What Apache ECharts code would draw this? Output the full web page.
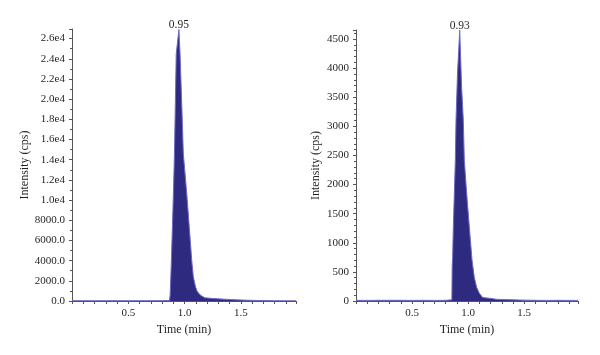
<!DOCTYPE html>
<html>
<head>
<meta charset="utf-8">
<script src="https://cdn.jsdelivr.net/npm/echarts@6/dist/echarts.min.js"></script>
<style>html,body{margin:0;padding:0;background:#fff}#c{width:600px;height:355px}</style>
</head>
<body>
<div id="c"></div>
<script>
// Left chromatogram (time in min, intensity in cps)
var leftTime  = [0, 0.1, 0.2, 0.3, 0.4, 0.5, 0.6, 0.7, 0.8, 0.866, 0.872, 0.883, 0.892, 0.901, 0.910, 0.918, 0.926, 0.950, 0.960, 0.975, 0.989, 1.019, 1.042, 1.064, 1.078, 1.095, 1.110, 1.130, 1.152, 1.180, 1.250, 1.350, 1.450, 1.550, 1.650, 1.800, 1.990];
var leftValue = [30, 30, 25, 30, 30, 25, 30, 30, 35, 50, 600, 4000, 7300, 10700, 14500, 19500, 24500, 26900, 24500, 19500, 14600, 10700, 7300, 4000, 2400, 1500, 1000, 700, 500, 320, 250, 180, 120, 80, 50, 30, 30];
// Right chromatogram
var rightTime  = [0, 0.1, 0.2, 0.3, 0.4, 0.5, 0.6, 0.7, 0.8, 0.855, 0.858, 0.862, 0.868, 0.877, 0.886, 0.892, 0.905, 0.925, 0.942, 0.957, 0.966, 0.987, 1.011, 1.035, 1.055, 1.076, 1.100, 1.130, 1.200, 1.250, 1.300, 1.400, 1.500, 1.600, 1.700, 1.800, 1.900, 1.980];
var rightValue = [12, 10, 12, 12, 12, 10, 12, 10, 12, 20, 600, 750, 1266, 1850, 2417, 3105, 3900, 4650, 3670, 3105, 2417, 1850, 1266, 700, 407, 235, 132, 60, 45, 30, 25, 20, 15, 12, 10, 12, 10, 10];
// Peak apex labels
var peakTimes  = [0.950, 0.925];
var peakValues = [26900, 4650];
var peakLabels = ['0.95', '0.93'];
// Tick labels
var xTickLabels = ['', '0.5', '1.0', '1.5'];
var leftYTickLabels = ['0.0', '2000.0', '4000.0', '6000.0', '8000.0', '1.0e4', '1.2e4', '1.4e4', '1.6e4', '1.8e4', '2.0e4', '2.2e4', '2.4e4', '2.6e4'];
var rightYTickLabels = ['0', '500', '1000', '1500', '2000', '2500', '3000', '3500', '4000', '4500'];

var FONT = '"Liberation Serif", "DejaVu Serif", serif';
var TXT = '#231f20';
var FILL = '#2e2a7f';
var LINE = '#6d6ac4';

function xAxis(gi, max) {
  return {
    type: 'value', gridIndex: gi, min: 0, max: max, interval: 0.5,
    name: 'Time (min)', nameLocation: 'middle', nameGap: 21,
    nameTextStyle: { fontFamily: FONT, fontSize: 12, color: TXT },
    axisLine: { show: true, onZero: false, lineStyle: { color: '#555', width: 1 } },
    axisTick: { show: true, inside: false, length: 3, lineStyle: { color: '#555' } },
    minorTick: { show: true, splitNumber: 5, length: 3, lineStyle: { color: '#555' } },
    axisLabel: { margin: 7, fontFamily: FONT, fontSize: 11, color: TXT, showMaxLabel: false,
      formatter: function (v) { var i = Math.round(v / 0.5); return xTickLabels[i] !== undefined ? xTickLabels[i] : ''; } },
    splitLine: { show: false }
  };
}

function yAxis(gi, max, interval, labels, gap, minorSplit) {
  return {
    type: 'value', gridIndex: gi, min: 0, max: max, interval: interval,
    name: 'Intensity (cps)', nameLocation: 'middle', nameGap: gap, nameRotate: 90,
    nameTextStyle: { fontFamily: FONT, fontSize: 12, color: TXT },
    axisLine: { show: true, lineStyle: { color: '#555', width: 1 } },
    axisTick: { show: true, length: 3, lineStyle: { color: '#555' } },
    minorTick: { show: true, splitNumber: minorSplit, length: 2, lineStyle: { color: '#555' } },
    axisLabel: { margin: 7, fontFamily: FONT, fontSize: 11, color: TXT, showMaxLabel: false,
      formatter: function (v) { var i = Math.round(v / interval); return labels[i] !== undefined ? labels[i] : ''; } },
    splitLine: { show: false }
  };
}

function series(gi, t, v) {
  return {
    type: 'line', xAxisIndex: gi, yAxisIndex: gi, showSymbol: false, symbol: 'none',
    animation: false, silent: true,
    lineStyle: { color: LINE, width: 1 },
    areaStyle: { color: FILL, opacity: 1 },
    data: t.map(function (x, i) { return [x, v[i]]; }),
    markPoint: {
      symbol: 'circle', symbolSize: 1, silent: true, animation: false,
      itemStyle: { color: 'rgba(0,0,0,0)' },
      label: { show: true, position: 'top', distance: 0, offset: [0, 2], fontFamily: FONT, fontSize: 11.5, color: TXT,
        formatter: function (p) { return p.name; } },
      data: [{ name: peakLabels[gi], coord: [peakTimes[gi], peakValues[gi]] }]
    }
  };
}

var chart = echarts.init(document.getElementById('c'), null, { renderer: 'canvas' });
chart.setOption({
  animation: false,
  backgroundColor: '#ffffff',
  grid: [
    { left: 72, top: 29, width: 224, height: 272, containLabel: false },
    { left: 356, top: 30, width: 222, height: 271, containLabel: false }
  ],
  xAxis: [xAxis(0, 1.99), xAxis(1, 1.98)],
  yAxis: [
    yAxis(0, 26950, 2000, leftYTickLabels, 40, 2),
    yAxis(1, 4655, 500, rightYTickLabels, 34, 5)
  ],
  series: [
    series(0, leftTime, leftValue),
    series(1, rightTime, rightValue)
  ]
});
</script>
</body>
</html>
